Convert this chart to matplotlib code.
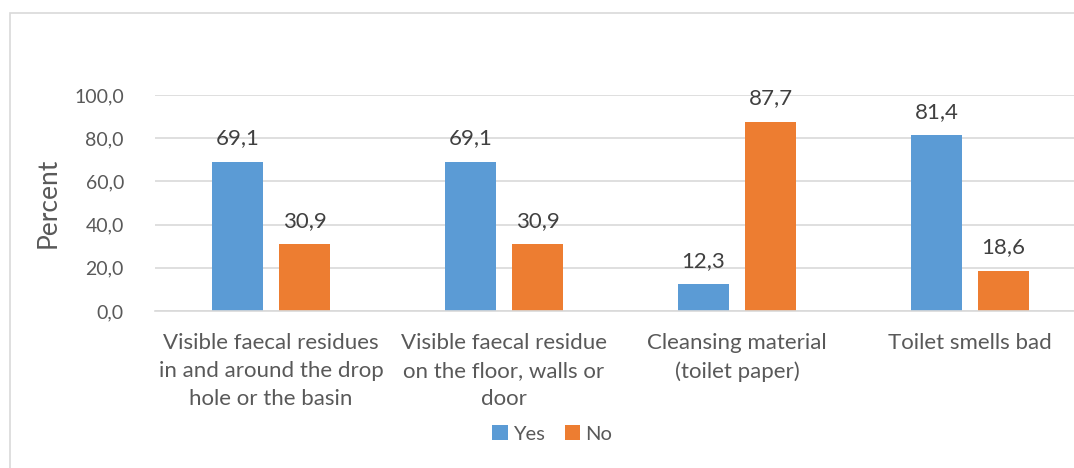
import numpy as np
import matplotlib.pyplot as plt
from matplotlib.patches import Rectangle

categories = ['Visible faecal residues\nin and around the drop\nhole or the basin',
              'Visible faecal residue\non the floor, walls or\ndoor',
              'Cleansing material\n(toilet paper)',
              'Toilet smells bad']
yes_values = [69.1, 69.1, 12.3, 81.4]
no_values = [30.9, 30.9, 87.7, 18.6]
yticks = [0, 20, 40, 60, 80, 100]

blue = '#5B9BD5'
orange = '#ED7D31'
text_col = '#595959'

plt.rcParams['font.family'] = ['Lato', 'DejaVu Sans']

fig = plt.figure(figsize=(10.74, 4.68), dpi=100)
# outer chart border (runs off the right and bottom edges)
fig.patches.append(Rectangle((10 / 1074, -0.1), 1.2, 1 - 13 / 468 + 0.1,
                             transform=fig.transFigure, fill=False,
                             edgecolor='#d9d9d9', linewidth=1.2))

ax = fig.add_axes([154.5 / 1074, 1 - 311 / 468, 1 - 154.5 / 1074, 216 / 468])
x = np.arange(len(categories))
w = 0.22
off = 0.144
ax.bar(x - off, yes_values, w, color=blue, label='Yes', zorder=2)
ax.bar(x + off, no_values, w, color=orange, label='No', zorder=2)

for xi, v in zip(x - off, yes_values):
    ax.text(xi, v + 10.8, f'{v:.1f}'.replace('.', ','), ha='center', va='center',
            fontsize=16, color='#404040', clip_on=False)
for xi, v in zip(x + off, no_values):
    ax.text(xi, v + 10.8, f'{v:.1f}'.replace('.', ','), ha='center', va='center',
            fontsize=16, color='#404040', clip_on=False)

ax.set_xlim(-0.5, (1074 - 154.5) / 233 - 0.5)
ax.set_ylim(0, 100)
ax.set_yticks(yticks)
ax.set_yticklabels([f'{t:.1f}'.replace('.', ',') for t in yticks])
ax.set_xticks(x)
ax.set_xticklabels(categories, linespacing=1.5)
ax.tick_params(axis='y', length=0, pad=22, labelsize=14, labelcolor=text_col)
ax.tick_params(axis='x', length=0, pad=16, labelsize=16, labelcolor=text_col)
ax.grid(axis='y', color='#d9d9d9', linewidth=1.2, zorder=0)
for s in ['top', 'right', 'left']:
    ax.spines[s].set_visible(False)
ax.spines['bottom'].set_color('#d9d9d9')
ax.spines['bottom'].set_linewidth(1.2)
ax.set_ylabel('Percent', fontsize=19, color=text_col, labelpad=10)

fig.legend(loc='center', bbox_to_anchor=(552 / 1074, 1 - 434 / 468), ncol=2,
           frameon=False, fontsize=14.5, labelcolor=text_col, handlelength=0.75,
           handleheight=0.75, handletextpad=0.25, columnspacing=1.0)

fig.savefig('out.png', dpi=100)
